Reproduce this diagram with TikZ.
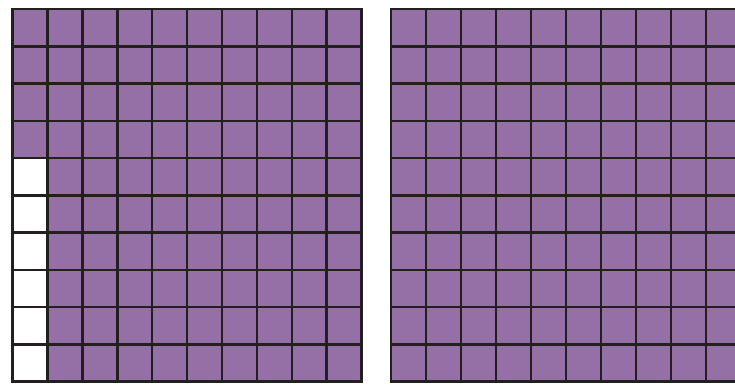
\documentclass[tikz,border=0pt]{standalone}
\definecolor{cellpurple}{RGB}{148,112,166}
\definecolor{gridline}{RGB}{35,31,32}
\tikzset{cellfill/.style={fill=cellpurple}, gridlines/.style={draw=gridline, line width=2.6pt, line cap=rect}}
\begin{document}
\begin{tikzpicture}[x=1pt,y=-1pt]
\useasboundingbox (0,0) rectangle (735,385);
\clip (0,0) rectangle (735,385);
% left grid
\def\cw{34.92}
\def\ch{37.27}
\fill[cellpurple] (12.5,9) rectangle (361.7,381.7);
\fill[white] (12.5,{9+4*\ch}) rectangle ({12.5+\cw},381.7);
\foreach \i in {0,...,10} {
  \draw[gridlines] ({12.5+\i*\cw},9) -- ({12.5+\i*\cw},381.7);
  \draw[gridlines] (12.5,{9+\i*\ch}) -- (361.7,{9+\i*\ch});
}
% right grid
\fill[cellpurple] (391,9) rectangle (741,381.7);
\foreach \i in {0,...,10} {
  \draw[gridlines] ({391+\i*35},9) -- ({391+\i*35},381.7);
  \draw[gridlines] (391,{9+\i*\ch}) -- (741,{9+\i*\ch});
}
\end{tikzpicture}
\end{document}
